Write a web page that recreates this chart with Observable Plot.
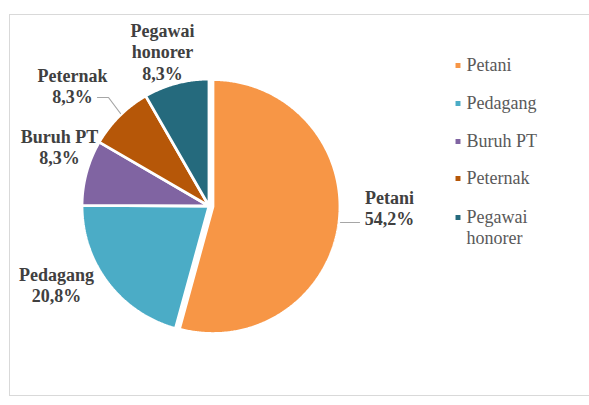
<!DOCTYPE html>
<html>
<head>
<meta charset="utf-8">
<script src="https://cdn.jsdelivr.net/npm/d3@7"></script>
<script src="https://cdn.jsdelivr.net/npm/@observablehq/plot@0.6"></script>
<style>
  html, body { margin: 0; padding: 0; background: #fff; }
  #wrap { position: relative; width: 589px; height: 405px; overflow: hidden; }
  #frame { position: absolute; left: 9px; top: 14px; width: 600px; height: 382px; border: 1.5px solid #d9d9d9; box-sizing: border-box; }
  #chart { position: absolute; left: 0; top: 0; }
</style>
</head>
<body>
<div id="wrap"><div id="frame"></div><div id="chart"></div></div>
<script>
// ---- data ----
const categories = ["Petani", "Pedagang", "Buruh PT", "Peternak", "Pegawai honorer"];
const percents = [54.2, 20.8, 8.3, 8.3, 8.3];
const valueLabels = ["54,2%", "20,8%", "8,3%", "8,3%", "8,3%"];
const labelNames = ["Petani", "Pedagang", "Buruh PT", "Peternak", "Pegawai\nhonorer"];
const legendNames = ["Petani", "Pedagang", "Buruh PT", "Peternak", "Pegawai\nhonorer"];
const colors = ["#f79646", "#4bacc6", "#8064a2", "#b65708", "#256a7d"];

// ---- layout ----
const W = 589, H = 405;
const cx = 208.5, cy = 205.5, R = 127;
const explode = [4, 0, 0, 0, 0];
const labelPos = [[389, 207], [56, 284], [59, 146], [72, 85], [162, 51]];
const leaders = [
  {name: "Petani", pts: [[340, 222], [359, 222]]},
  {name: "Peternak", pts: [[97, 97], [108, 97], [120, 113]]}
];
const legendX = 457.5, legendTextX = 466;
const legendY = [63.5, 101.5, 139.5, 176.5, 226];
const legendMarkY = [65, 103, 141, 178, 217];

const pie = d3.pie().sort(null).value(d => d)(percents);
const slicePts = [];
pie.forEach((p, i) => {
  const mid = (p.startAngle + p.endAngle) / 2;
  const ox = explode[i] * Math.sin(mid), oy = -explode[i] * Math.cos(mid);
  const ccx = cx + ox, ccy = cy + oy;
  slicePts.push({name: categories[i], x: ccx, y: ccy});
  const n = Math.max(2, Math.ceil((p.endAngle - p.startAngle) / (Math.PI / 360)));
  for (let k = 0; k <= n; k++) {
    const a = p.startAngle + (p.endAngle - p.startAngle) * k / n;
    slicePts.push({name: categories[i], x: ccx + R * Math.sin(a), y: ccy - R * Math.cos(a)});
  }
  slicePts.push({name: categories[i], x: ccx, y: ccy});
});

const labelData = categories.map((c, i) => ({
  text: labelNames[i] + "\n" + valueLabels[i], x: labelPos[i][0], y: labelPos[i][1]
}));
const leaderPts = leaders.flatMap(l => l.pts.map(p => ({name: l.name, x: p[0], y: p[1]})));
const legendData = categories.map((c, i) => ({
  name: c, text: legendNames[i], mx: legendX, my: legendMarkY[i], tx: legendTextX, ty: legendY[i]
}));

const serif = "Liberation Serif, Times New Roman, serif";
const chart = Plot.plot({
  width: W, height: H,
  margin: 0,
  x: {domain: [0, W], range: [0, W], axis: null},
  y: {domain: [0, H], range: [0, H], axis: null},
  color: {domain: categories, range: colors},
  style: {background: "transparent", overflow: "visible"},
  marks: [
    Plot.line(slicePts, {x: "x", y: "y", z: "name", fill: "name", stroke: "#fff", strokeWidth: 2.8, strokeLinejoin: "miter", curve: "linear"}),
    Plot.line(leaderPts, {x: "x", y: "y", z: "name", stroke: "#a6a6a6", strokeWidth: 1.2, curve: "linear"}),
    Plot.text(labelData, {x: "x", y: "y", text: "text", textAnchor: "middle", lineAnchor: "middle", lineHeight: 1.2,
      fontFamily: serif, fontWeight: "bold", fontSize: 18, fill: "#404040"}),
    Plot.dot(legendData, {x: "mx", y: "my", symbol: "square", r: 2.8, fill: "name", stroke: null}),
    Plot.text(legendData, {x: "tx", y: "ty", text: "text", textAnchor: "start", lineAnchor: "middle", lineHeight: 1.17,
      fontFamily: serif, fontSize: 18, fill: "#595959"})
  ]
});
document.getElementById("chart").appendChild(chart);
</script>
</body>
</html>
